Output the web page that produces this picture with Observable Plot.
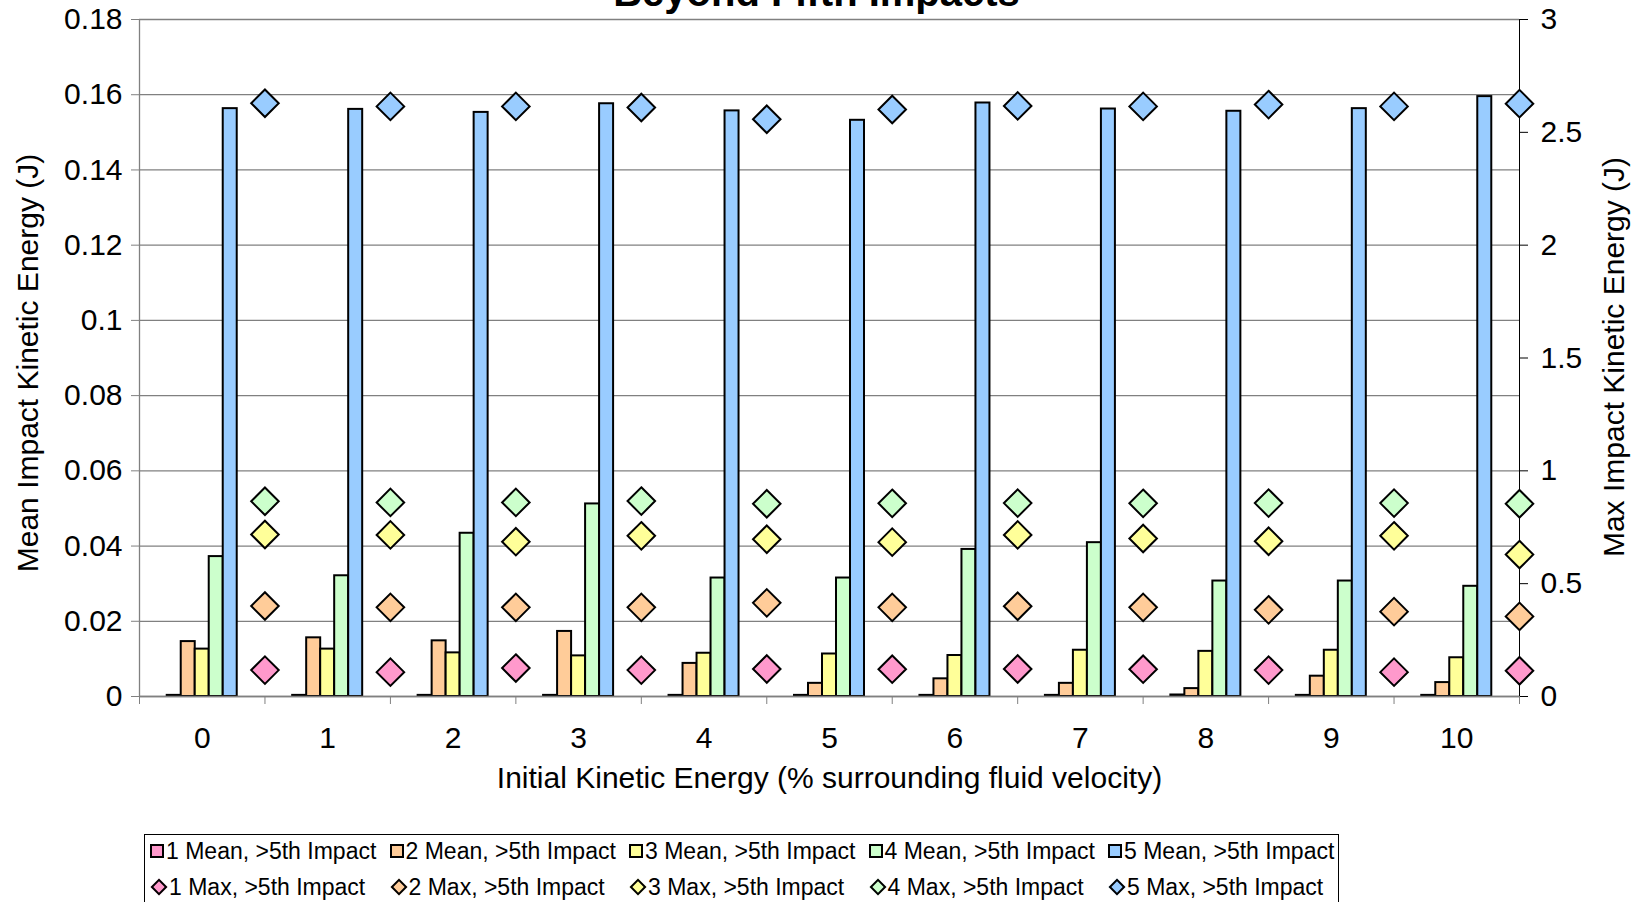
<!DOCTYPE html>
<html>
<head>
<meta charset="utf-8">
<script src="https://cdn.jsdelivr.net/npm/d3@7"></script>
<script src="https://cdn.jsdelivr.net/npm/@observablehq/plot@0.6"></script>
<style>
  html, body { margin: 0; padding: 0; background: #fff; width: 1640px; height: 902px; overflow: hidden; }
  body { position: relative; font-family: "Liberation Sans", Arial, sans-serif; }
  #chart svg { display: block; }
  #legend { position: absolute; left: 144px; top: 834px; width: 1195px; height: 90px; border: 1px solid #000; box-sizing: border-box; }
  .item { position: absolute; display: flex; align-items: center; font-size: 23px; color: #000; white-space: nowrap; height: 30px; }
  .sq { width: 10px; height: 10px; border: 2px solid #000; margin-right: 2px; }
  .dm { width: 8px; height: 8px; border: 2px solid #000; transform: rotate(45deg); margin: 0 4px 0 3px; }
</style>
</head>
<body>
<div id="chart"></div>
<div id="legend"></div>
<script>
// ---- data ----
const title = "Beyond Fifth Impacts";
const xTitle = "Initial Kinetic Energy (% surrounding fluid velocity)";
const yLeftTitle = "Mean Impact Kinetic Energy (J)";
const yRightTitle = "Max Impact Kinetic Energy (J)";
const categories = [0, 1, 2, 3, 4, 5, 6, 7, 8, 9, 10];
const leftTicks = [0, 0.02, 0.04, 0.06, 0.08, 0.1, 0.12, 0.14, 0.16, 0.18];
const rightTicks = [0, 0.5, 1, 1.5, 2, 2.5, 3];
const meanNames = ["1 Mean, >5th Impact", "2 Mean, >5th Impact", "3 Mean, >5th Impact", "4 Mean, >5th Impact", "5 Mean, >5th Impact"];
const maxNames = ["1 Max, >5th Impact", "2 Max, >5th Impact", "3 Max, >5th Impact", "4 Max, >5th Impact", "5 Max, >5th Impact"];
const mean1 = [0.0003, 0.0003, 0.0003, 0.0003, 0.0003, 0.0003, 0.0003, 0.0003, 0.0004, 0.0003, 0.0003];
const mean2 = [0.0146, 0.0156, 0.0148, 0.0173, 0.0088, 0.0035, 0.0047, 0.0035, 0.0021, 0.0054, 0.0037];
const mean3 = [0.0126, 0.0126, 0.0116, 0.0108, 0.0115, 0.0113, 0.0109, 0.0123, 0.0120, 0.0123, 0.0103];
const mean4 = [0.0372, 0.0321, 0.0434, 0.0512, 0.0315, 0.0315, 0.0391, 0.0409, 0.0307, 0.0307, 0.0293];
const mean5 = [0.1563, 0.1561, 0.1553, 0.1576, 0.1557, 0.1532, 0.1578, 0.1562, 0.1556, 0.1563, 0.1595];
const max1 = [0.117, 0.108, 0.126, 0.117, 0.122, 0.121, 0.122, 0.121, 0.117, 0.108, 0.114];
const max2 = [0.401, 0.395, 0.395, 0.395, 0.415, 0.395, 0.400, 0.395, 0.384, 0.376, 0.355];
const max3 = [0.718, 0.716, 0.686, 0.712, 0.697, 0.684, 0.716, 0.700, 0.688, 0.712, 0.629];
const max4 = [0.865, 0.860, 0.860, 0.866, 0.854, 0.856, 0.857, 0.856, 0.857, 0.857, 0.854];
const max5 = [2.629, 2.615, 2.615, 2.610, 2.558, 2.601, 2.617, 2.615, 2.623, 2.615, 2.627];

// ---- styles ----
const colors = ["#FF99CC", "#FFCC99", "#FFFF99", "#CCFFCC", "#99CCFF"];
const gridColor = "#808080";
const font = "'Liberation Sans', Arial, sans-serif";

// ---- derived ----
const meanSeries = [mean1, mean2, mean3, mean4, mean5];
const maxSeries = [max1, max2, max3, max4, max5];
const leftMax = leftTicks[leftTicks.length - 1];
const rightMax = rightTicks[rightTicks.length - 1];
const ratio = leftMax / rightMax; // secondary axis -> primary scale units
const groupWidth = 0.558, barW = groupWidth / 5;

const bars = categories.flatMap((c, i) => meanSeries.map((arr, k) => ({ cat: c, k, series: meanNames[k], value: arr[i] })));
const points = categories.flatMap((c, i) => maxSeries.map((arr, k) => ({ cat: c, k, series: maxNames[k], value: arr[i] })));
const boundaries = [categories[0] - 0.5, ...categories.map(c => c + 0.5)];

const W = 1640, H = 834;
const plot = Plot.plot({
  width: W, height: H,
  marginLeft: 139, marginRight: 121, marginTop: 19, marginBottom: H - 696,
  style: { fontFamily: font, background: "white", overflow: "visible" },
  x: { type: "linear", domain: [boundaries[0], boundaries[boundaries.length - 1]] },
  y: { domain: [0, leftMax] },
  marks: [
    Plot.gridY(leftTicks, { stroke: gridColor, strokeOpacity: 1, strokeWidth: 1.3 }),
    Plot.rectY(bars, {
      x1: d => d.cat - groupWidth / 2 + d.k * barW,
      x2: d => d.cat - groupWidth / 2 + (d.k + 1) * barW,
      y1: 0, y2: "value",
      fill: d => colors[d.k], stroke: "black", strokeWidth: 2
    }),
    Plot.ruleX([boundaries[0]], { stroke: gridColor, strokeWidth: 1.3 }),
    Plot.ruleX([boundaries[boundaries.length - 1]], { stroke: "black", strokeWidth: 1 }),
    Plot.ruleY([0], { stroke: gridColor, strokeWidth: 1.3 }),
    Plot.axisY(leftTicks, { anchor: "left", label: null, tickSize: 8, tickPadding: 9, stroke: gridColor, fill: "black", fontSize: 30, tickFormat: d => String(d) }),
    Plot.axisY(rightTicks.map(v => v * ratio), { anchor: "right", label: null, tickSize: 8, tickPadding: 13, stroke: "black", fill: "black", fontSize: 30, tickFormat: (d, i) => String(rightTicks[i]) }),
    Plot.axisX(boundaries, { anchor: "bottom", label: null, tickSize: 8, stroke: gridColor, tickFormat: () => "" }),
    Plot.axisX(categories, { anchor: "bottom", label: null, tickSize: 0, tickPadding: 30, fill: "black", fontSize: 30, tickFormat: d => String(d) }),
    Plot.dot(points, {
      x: d => d.cat + 0.5, y: d => d.value * ratio,
      symbol: "diamond2", r: 12.4, fill: d => colors[d.k], stroke: "black", strokeWidth: 2
    }),
    Plot.text([xTitle], { frameAnchor: "bottom", dy: 91, fontSize: 30, fill: "black", text: d => d }),
    Plot.text([yLeftTitle], { frameAnchor: "left", textAnchor: "middle", dx: -111, dy: 5, rotate: -90, fontSize: 30, fill: "black", text: d => d }),
    Plot.text([yRightTitle], { frameAnchor: "right", textAnchor: "middle", dx: 95, dy: -1, rotate: -90, fontSize: 30, fill: "black", text: d => d }),
    Plot.text([title], { frameAnchor: "top", dx: -13, dy: -14, lineAnchor: "bottom", fontSize: 40, fontWeight: "bold", fill: "black", text: d => d })
  ]
});
document.getElementById("chart").appendChild(plot);

// ---- legend ----
const legend = document.getElementById("legend");
const colStep = 239.5;
meanNames.forEach((name, k) => {
  const it = document.createElement("div");
  it.className = "item";
  it.style.left = (5 + k * colStep) + "px";
  it.style.top = "1px";
  it.innerHTML = `<span class="sq" style="background:${colors[k]}"></span><span>${name.replace(">", "&gt;")}</span>`;
  legend.appendChild(it);
});
maxNames.forEach((name, k) => {
  const it = document.createElement("div");
  it.className = "item";
  it.style.left = (5 + k * colStep) + "px";
  it.style.top = "37px";
  it.innerHTML = `<span class="dm" style="background:${colors[k]}"></span><span>${name.replace(">", "&gt;")}</span>`;
  legend.appendChild(it);
});
</script>
</body>
</html>
